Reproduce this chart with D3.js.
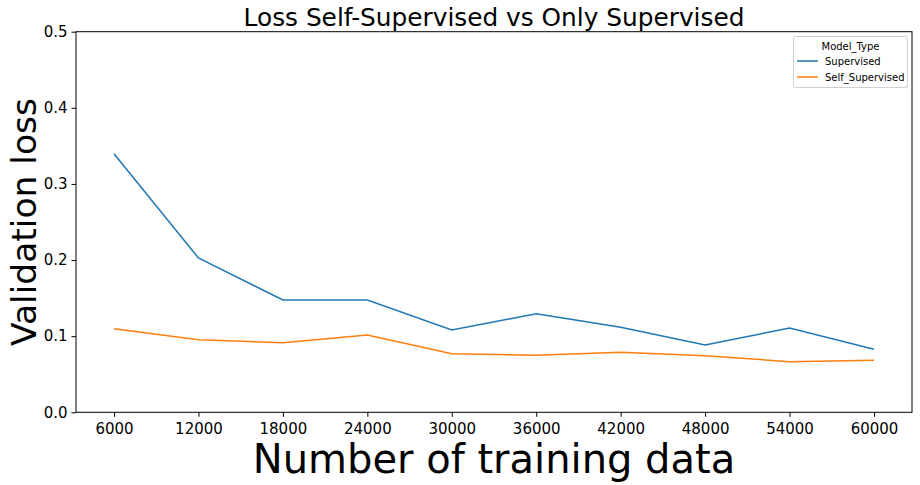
<!DOCTYPE html>
<html><head><meta charset="utf-8">
<script src="https://cdn.jsdelivr.net/npm/d3@7"></script>
<style>body{margin:0;background:#fff}svg{display:block;font-family:"DejaVu Sans",sans-serif}</style>
</head><body><svg id="c" width="920" height="485"></svg>
<script>
const trainSizes = [6000,12000,18000,24000,30000,36000,42000,48000,54000,60000];
const supervised = [0.3397,0.2027,0.1475,0.1475,0.1081,0.1295,0.1117,0.0884,0.1107,0.0828];
const selfSupervised = [0.1099,0.0954,0.0914,0.1015,0.0770,0.0749,0.0788,0.0744,0.0665,0.0683];
const yTicks = [0.0,0.1,0.2,0.3,0.4,0.5];
const seriesNames = ["Supervised","Self_Supervised"];
const colors = ["#1f77b4","#ff7f0e"];

const svg = d3.select("#c");
const L=76, R=912, T=31.7, B=412.3;
const span = 60000-6000, pad = span*0.05;
const x = d3.scaleLinear().domain([6000-pad,60000+pad]).range([L,R]);
const y = d3.scaleLinear().domain([0,0.5]).range([B,T]);

// axes
const xa = svg.append("g").attr("transform",`translate(0,${B})`)
  .call(d3.axisBottom(x).tickValues(trainSizes).tickFormat(d3.format("d")).tickSize(4.5).tickPadding(3.5));
const ya = svg.append("g").attr("transform",`translate(${L},0)`)
  .call(d3.axisLeft(y).tickValues(yTicks).tickFormat(d3.format(".1f")).tickSize(4.5).tickPadding(4));
[xa,ya].forEach(a=>{a.select(".domain").remove();a.selectAll("line").attr("stroke","#000").attr("stroke-width",1);
  a.selectAll("text").attr("font-size",15).attr("font-family","DejaVu Sans").attr("fill","#000");});
xa.selectAll("text").attr("dy","0.9em");

// lines
const line = d3.line().x((d,i)=>x(trainSizes[i])).y(d=>y(d));
[supervised,selfSupervised].forEach((s,k)=>{
  svg.append("path").datum(s).attr("d",line).attr("fill","none").attr("stroke",colors[k]).attr("stroke-width",1.5);
});

// frame
svg.append("rect").attr("x",L).attr("y",T).attr("width",R-L).attr("height",B-T)
  .attr("fill","none").attr("stroke","#000").attr("stroke-width",1);

// title & labels
svg.append("text").attr("x",(L+R)/2).attr("y",25.5).attr("text-anchor","middle").attr("font-size",24.8).text("Loss Self-Supervised vs Only Supervised");
svg.append("text").attr("x",(L+R)/2).attr("y",473).attr("text-anchor","middle").attr("font-size",40).text("Number of training data");
svg.append("text").attr("transform",`translate(36,${(T+B)/2}) rotate(-90)`).attr("text-anchor","middle").attr("font-size",34.5).text("Validation loss");

// legend
const lg = svg.append("g");
lg.append("rect").attr("x",793.5).attr("y",36.5).attr("width",114).attr("height",51).attr("rx",2.5)
  .attr("fill","#fff").attr("fill-opacity",0.8).attr("stroke","#d0d0d0");
lg.append("text").attr("x",850.5).attr("y",49.5).attr("text-anchor","middle").attr("font-size",10).text("Model_Type");
seriesNames.forEach((n,i)=>{
  const yy = 61 + i*16;
  lg.append("line").attr("x1",797).attr("x2",818).attr("y1",yy).attr("y2",yy).attr("stroke",colors[i]).attr("stroke-width",1.5);
  lg.append("text").attr("x",825).attr("y",yy+3.5).attr("font-size",10).text(n);
});
</script></body></html>
